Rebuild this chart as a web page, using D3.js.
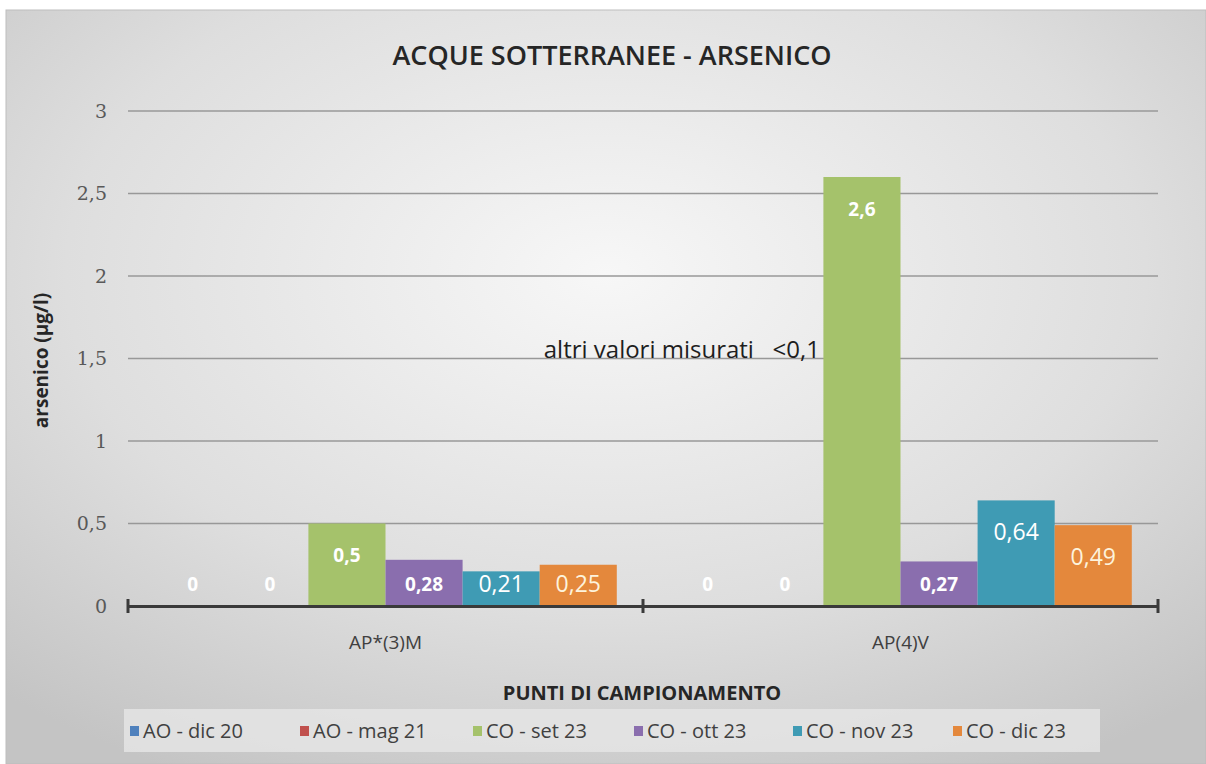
<!DOCTYPE html>
<html>
<head>
<meta charset="utf-8">
<script src="https://cdn.jsdelivr.net/npm/d3@7"></script>
<style>
  body { margin: 0; background: #fff; }
  svg { display: block; }
</style>
</head>
<body>
<svg id="chart" width="1206" height="764"></svg>
<script>
// data
const categories = ["AP*(3)M", "AP(4)V"]
const seriesNames = ["AO - dic 20", "AO - mag 21", "CO - set 23", "CO - ott 23", "CO - nov 23", "CO - dic 23"]
const seriesColors = ["#4f81bd", "#c0504d", "#a5c26b", "#8a6eae", "#3f9bb4", "#e4883c"]
const valuesAP3M = [0, 0, 0.5, 0.28, 0.21, 0.25]
const valuesAP4V = [0, 0, 2.6, 0.27, 0.64, 0.49]
const labelsAP3M = ["0", "0", "0,5", "0,28", "0,21", "0,25"]
const labelsAP4V = ["0", "0", "2,6", "0,27", "0,64", "0,49"]
const yTicks = [0, 0.5, 1, 1.5, 2, 2.5, 3]

const width = 1206, height = 764
const margin = { top: 111, right: 48, bottom: 158, left: 128 }

let svg = d3.select("#chart")

// background
let defs = svg.append("defs")
let grad = defs.append("radialGradient")
  .attr("id", "bg")
  .attr("cx", "50%").attr("cy", "35%").attr("r", "75%")
grad.append("stop").attr("offset", "0%").attr("stop-color", "#f7f7f7")
grad.append("stop").attr("offset", "60%").attr("stop-color", "#dedede")
grad.append("stop").attr("offset", "100%").attr("stop-color", "#c4c4c4")

svg.append("rect")
  .attr("x", 6).attr("y", 10)
  .attr("width", width - 6).attr("height", height - 10)
  .attr("fill", "url(#bg)")
  .attr("stroke", "#bdbdbd")

let x0 = d3.scaleBand()
  .domain(categories)
  .range([margin.left, width - margin.right])

let x1 = d3.scaleBand()
  .domain(d3.range(seriesNames.length))
  .range([0, x0.bandwidth()])
  .paddingOuter(0.34)

let y = d3.scaleLinear()
  .domain([0, 3])
  .range([height - margin.bottom, margin.top])

// gridlines
svg.append("g")
  .selectAll("line")
  .data(yTicks.slice(1))
  .enter()
  .append("line")
  .attr("x1", margin.left).attr("x2", width - margin.right)
  .attr("y1", d => y(d)).attr("y2", d => y(d))
  .attr("stroke", "#989898")
  .attr("stroke-width", 1.5)

// y axis labels
let yAxis = d3.axisLeft(y)
  .tickValues(yTicks)
  .tickSize(0)
  .tickPadding(21)
  .tickFormat(d => String(d).replace(".", ","))

svg.append("g")
  .attr("id", "y-axis")
  .attr("transform", "translate(" + margin.left + ",0)")
  .call(yAxis)
  .call(g => g.select(".domain").remove())
  .selectAll("text")
  .attr("font-family", "'DejaVu Serif', serif")
  .attr("font-size", 19)
  .attr("fill", "#595959")

// bars
let rows = categories.map((c, i) => {
  let vals = i === 0 ? valuesAP3M : valuesAP4V
  let labs = i === 0 ? labelsAP3M : labelsAP4V
  return vals.map((v, j) => ({ cat: c, s: j, value: v, label: labs[j] }))
})

let group = svg.append("g")
  .selectAll("g")
  .data(rows)
  .enter()
  .append("g")
  .attr("transform", (d, i) => "translate(" + x0(categories[i]) + ",0)")

group.selectAll("rect")
  .data(d => d)
  .enter()
  .append("rect")
  .attr("x", d => x1(d.s))
  .attr("width", x1.bandwidth())
  .attr("y", d => y(d.value))
  .attr("height", d => y(0) - y(d.value))
  .attr("fill", d => seriesColors[d.s])

// value labels inside bars
group.selectAll("text")
  .data(d => d)
  .enter()
  .append("text")
  .attr("x", d => x1(d.s) + x1.bandwidth() / 2)
  .attr("y", d => Math.min(y(d.value) + 32, y(0) - 22))
  .attr("dy", "0.35em")
  .attr("text-anchor", "middle")
  .attr("font-family", "'Open Sans', sans-serif")
  .attr("font-weight", d => d.s >= 4 ? 400 : 700)
  .attr("font-size", d => d.s >= 4 ? 23 : 19)
  .attr("fill", d => d.s === 5 ? "#fdf3dc" : "#ffffff")
  .text(d => d.label)

// x axis
let xAxis = d3.axisBottom(x0).tickSize(0).tickPadding(30)
svg.append("g")
  .attr("id", "x-axis")
  .attr("transform", "translate(0," + y(0) + ")")
  .call(xAxis)
  .call(g => g.select(".domain").attr("stroke", "#3a3a3a").attr("stroke-width", 3))
  .selectAll("text")
  .attr("font-family", "'Open Sans', sans-serif")
  .attr("font-size", 19)
  .attr("fill", "#404040")

// boundary ticks
svg.append("g")
  .selectAll("line")
  .data([margin.left, x0(categories[1]), width - margin.right])
  .enter()
  .append("line")
  .attr("x1", d => d).attr("x2", d => d)
  .attr("y1", y(0) - 7).attr("y2", y(0) + 7)
  .attr("stroke", "#3a3a3a")
  .attr("stroke-width", 3)

// title
svg.append("text")
  .attr("x", 612).attr("y", 65)
  .attr("text-anchor", "middle")
  .attr("font-family", "'Open Sans', sans-serif")
  .attr("font-weight", 600)
  .attr("font-size", 27)
  .attr("fill", "#262626")
  .text("ACQUE SOTTERRANEE - ARSENICO")

// y axis title
svg.append("text")
  .attr("transform", "translate(48," + (y(1.5) + 2) + ") rotate(-90)")
  .attr("text-anchor", "middle")
  .attr("font-family", "'Open Sans', sans-serif")
  .attr("font-weight", 700)
  .attr("font-size", 19)
  .attr("fill", "#262626")
  .text("arsenico (µg/l)")

// note
svg.append("text")
  .attr("x", 820).attr("y", 358)
  .attr("text-anchor", "end")
  .attr("font-family", "'Open Sans', sans-serif")
  .attr("font-size", 24)
  .attr("fill", "#1e1e1e")
  .attr("xml:space", "preserve")
  .text("altri valori misurati   <0,1")

// x axis title
svg.append("text")
  .attr("x", 642).attr("y", 700)
  .attr("text-anchor", "middle")
  .attr("font-family", "'Open Sans', sans-serif")
  .attr("font-weight", 700)
  .attr("font-size", 20)
  .attr("fill", "#262626")
  .text("PUNTI DI CAMPIONAMENTO")

// legend
svg.append("rect")
  .attr("x", 124).attr("y", 709)
  .attr("width", 976).attr("height", 43)
  .attr("fill", "#e6e6e6")
  .attr("opacity", 0.8)

let legendX = [130, 300, 473, 634, 793, 953]
let legend = svg.append("g")
  .selectAll("g")
  .data(seriesNames)
  .enter()
  .append("g")
  .attr("transform", (d, i) => "translate(" + legendX[i] + ",731)")

legend.append("rect")
  .attr("x", 0).attr("y", -5)
  .attr("width", 9).attr("height", 10)
  .attr("fill", (d, i) => seriesColors[i])

legend.append("text")
  .attr("x", 13)
  .attr("dy", "0.35em")
  .attr("font-family", "'Open Sans', sans-serif")
  .attr("font-size", 20)
  .attr("fill", "#404040")
  .text(d => d)
</script>
</body>
</html>
